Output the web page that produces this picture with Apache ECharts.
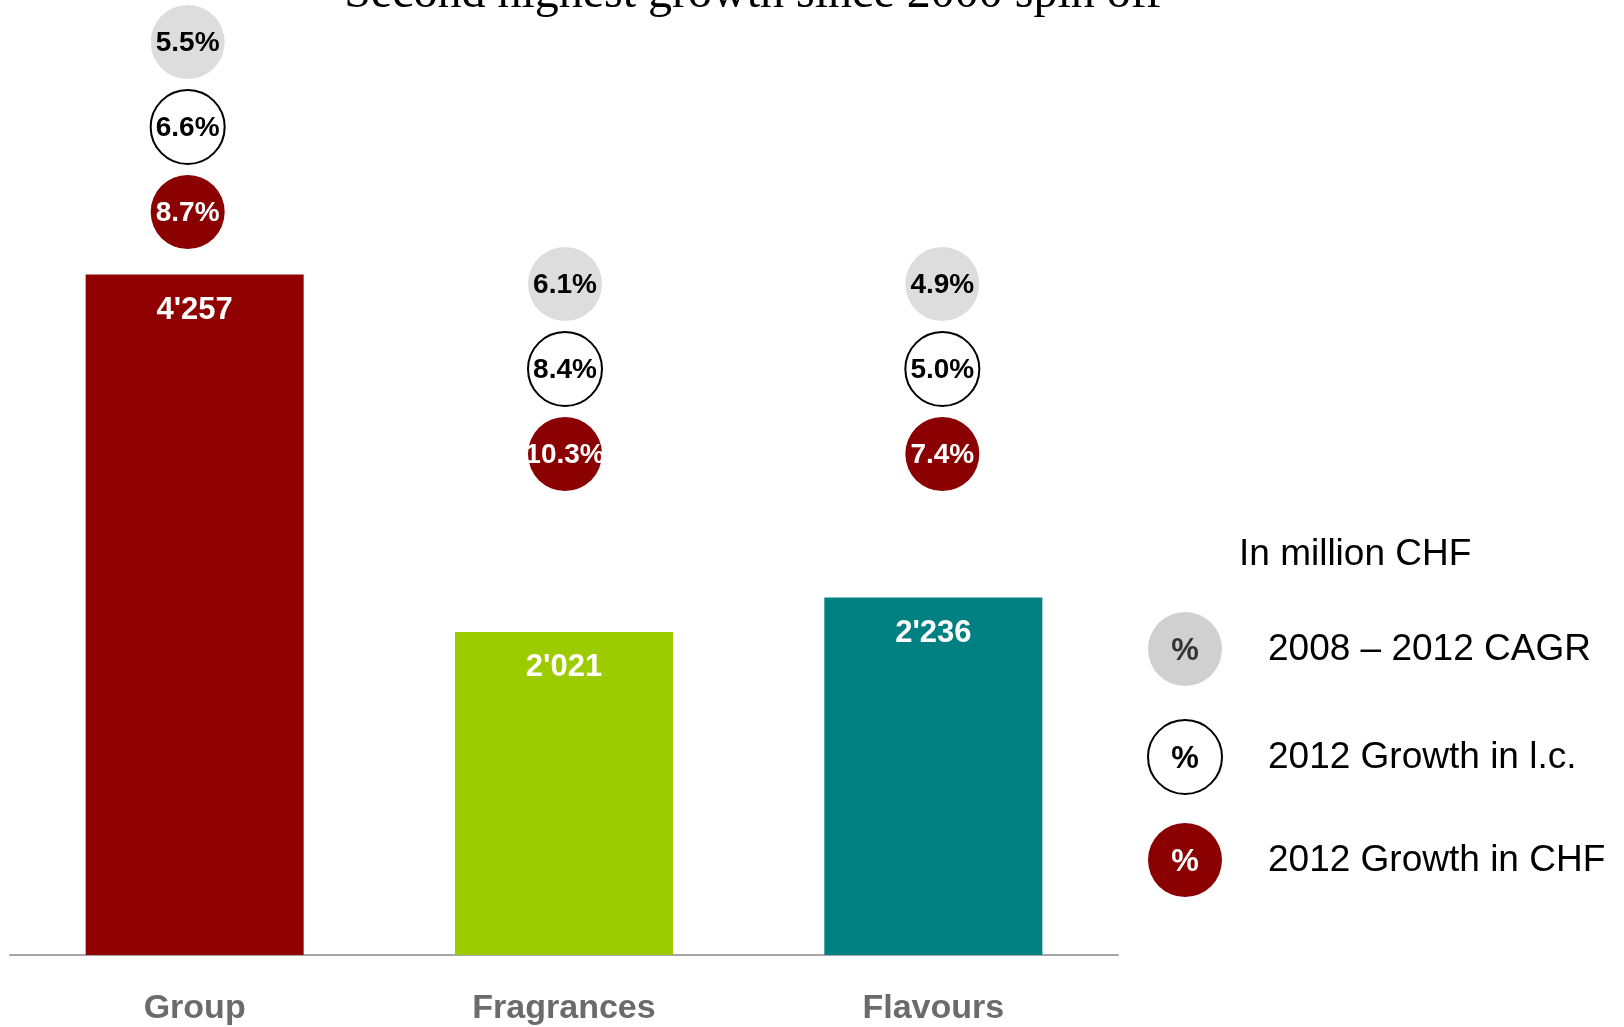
<!DOCTYPE html>
<html>
<head>
<meta charset="utf-8">
<style>
  html, body { margin: 0; padding: 0; background: #fff; }
  #chart { width: 1624px; height: 1027px; }
</style>
<script src="https://cdn.jsdelivr.net/npm/echarts@6.0.0/dist/echarts.min.js"></script>
</head>
<body>
<div id="chart"></div>
<script>
// data
const categories = ['Group', 'Fragrances', 'Flavours'];
const sales = [4257, 2021, 2236];
const cagr0812 = [5.5, 6.1, 4.9];
const growthLc = [6.6, 8.4, 5.0];
const growthChf = [8.7, 10.3, 7.4];
const badgeNames = ['2008 – 2012 CAGR', '2012 Growth in l.c.', '2012 Growth in CHF'];

const barColors = ['#900000', '#9ccc00', '#008080'];
const badgeStyles = [
  { fill: '#dddddd', stroke: null, text: '#000000' },
  { fill: '#ffffff', stroke: '#000000', text: '#000000' },
  { fill: '#8b0000', stroke: null, text: '#ffffff' },
];
// the badge stacks were placed by hand on the slide
const badgeTop = [42, 284, 284];
const badgeDx = [-7, 1, 9];
const badgeGap = 85;
const badgeR = 37;

const sansFont = '"Liberation Sans", Arial, sans-serif';

function fmtThousands(v) {
  return String(v).replace(/\B(?=(\d{3})+(?!\d))/g, "'");
}

function badgeSeries(values, row) {
  const st = badgeStyles[row];
  return {
    type: 'custom',
    name: badgeNames[row],
    data: values.map((v, i) => [i, v]),
    encode: { x: 0, y: 1 },
    silent: true,
    z: 5,
    renderItem: function (params, api) {
      const i = api.value(0);
      const cx = api.coord([i, 0])[0] + badgeDx[i];
      const cy = badgeTop[i] + row * badgeGap;
      return {
        type: 'group',
        children: [
          {
            type: 'circle',
            shape: { cx: cx, cy: cy, r: badgeR },
            style: { fill: st.fill, stroke: st.stroke, lineWidth: 2 },
          },
          {
            type: 'text',
            style: {
              x: cx,
              y: cy + 1,
              text: api.value(1).toFixed(1) + '%',
              fill: st.text,
              font: 'bold 28px ' + sansFont,
              align: 'center',
              verticalAlign: 'middle',
            },
          },
        ],
      };
    },
  };
}

// legend on the right, drawn as graphics (circles with % inside)
const legendX = 1185;
const legendY = [649, 757, 860];
const legendFill = ['#d0d0d0', '#ffffff', '#8b0000'];
const legendText = ['#333333', '#000000', '#ffffff'];
let legendGraphics = [
  {
    type: 'text',
    left: 1239,
    top: 536,
    style: { text: 'In million CHF', fill: '#000', font: '37px ' + sansFont },
  },
];
badgeNames.forEach((name, k) => {
  legendGraphics.push({
    type: 'circle',
    shape: { cx: legendX, cy: legendY[k], r: badgeR },
    style: { fill: legendFill[k], stroke: k === 1 ? '#000' : null, lineWidth: 2 },
  });
  legendGraphics.push({
    type: 'text',
    x: legendX,
    y: legendY[k] + 2,
    style: {
      text: '%', fill: legendText[k], font: 'bold 31px ' + sansFont,
      align: 'center', verticalAlign: 'middle',
    },
  });
  legendGraphics.push({
    type: 'text',
    x: 1268,
    y: legendY[k] + 1,
    style: {
      text: name, fill: '#000', font: '37px ' + sansFont,
      align: 'left', verticalAlign: 'middle',
    },
  });
});

var chartDom = document.getElementById('chart');
var myChart = echarts.init(chartDom);
var option;

option = {
  backgroundColor: '#ffffff',
  animation: false,
  grid: { left: 10, right: 506, top: 155.7, bottom: 72 },
  xAxis: {
    type: 'category',
    data: categories,
    axisTick: { show: false },
    axisLine: { lineStyle: { color: '#a6a6a6', width: 2 } },
    axisLabel: {
      margin: 37,
      fontSize: 34,
      fontWeight: 'bold',
      color: '#6b6b6b',
      fontFamily: sansFont,
    },
  },
  yAxis: {
    type: 'value',
    min: 0,
    max: 5000,
    show: false,
    splitLine: { show: false },
  },
  graphic: [
    {
      type: 'text',
      x: 753,
      y: -6,
      style: {
        text: 'Second highest growth since 2000 spin off',
        fill: '#000',
        font: '48px "Liberation Serif", "Times New Roman", serif',
        align: 'center',
        verticalAlign: 'middle',
      },
    },
  ].concat(legendGraphics),
  series: [
    {
      type: 'bar',
      barWidth: 218,
      data: sales.map((v, i) => ({ value: v, itemStyle: { color: barColors[i] } })),
      label: {
        show: true,
        position: 'insideTop',
        distance: 20,
        color: '#ffffff',
        fontSize: 31,
        fontWeight: 'bold',
        fontFamily: sansFont,
        formatter: (p) => fmtThousands(p.value),
      },
    },
    badgeSeries(cagr0812, 0),
    badgeSeries(growthLc, 1),
    badgeSeries(growthChf, 2),
  ],
};

option && myChart.setOption(option);
</script>
</body>
</html>
